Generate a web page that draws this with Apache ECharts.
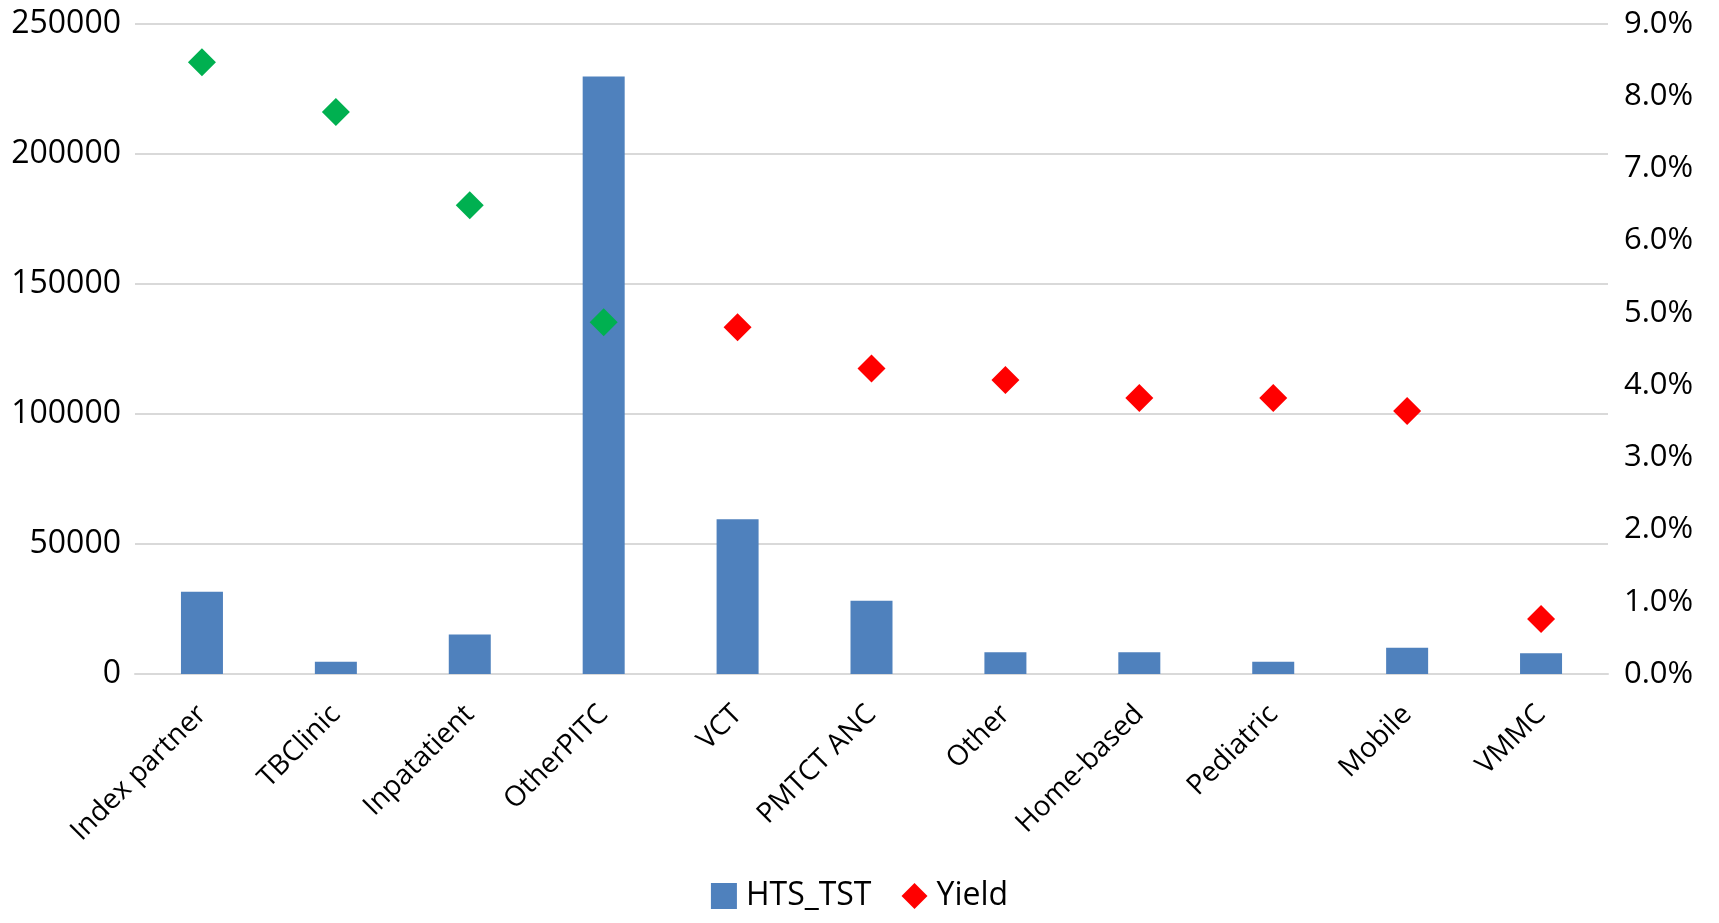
<!DOCTYPE html>
<html>
<head>
<meta charset="utf-8">
<script src="https://cdn.jsdelivr.net/npm/echarts@6/dist/echarts.min.js"></script>
<style>
  html, body { margin: 0; padding: 0; background: #fff; }
  #chart { width: 1719px; height: 923px; }
</style>
</head>
<body>
<div id="chart"></div>
<script>
// Testing volume and positivity yield by testing modality
const categories = ['Index partner', 'TBClinic', 'Inpatatient', 'OtherPITC', 'VCT', 'PMTCT ANC',
  'Other', 'Home-based', 'Pediatric', 'Mobile', 'VMMC'];
const htsTst = [31600, 4700, 15200, 229800, 59500, 28200, 8400, 8400, 4700, 10100, 8000];
const yieldRate = [0.0847, 0.0778, 0.0649, 0.0487, 0.0480, 0.0423, 0.0407, 0.0382, 0.0382, 0.0364, 0.0076];
const leftTicks = { min: 0, max: 250000, step: 50000 };
const rightTicks = { min: 0, max: 0.09, step: 0.01 };
// modalities whose yield is flagged as high (shown in green)
const highYieldCount = 4;

const FONT = '"Open Sans", "Liberation Sans", sans-serif';
const GREEN = '#00B050';
const RED = '#FF0000';
const BLUE = '#4F81BD';

const chart = echarts.init(document.getElementById('chart'), null, { renderer: 'canvas' });

const yieldData = yieldRate.map((v, i) => ({
  value: v,
  itemStyle: { color: i < highYieldCount ? GREEN : RED, opacity: 1 }
}));

chart.setOption({
  animation: false,
  textStyle: { fontFamily: FONT, color: '#000' },
  grid: { left: 135, right: 111, top: 24, bottom: 249, containLabel: false },
  legend: {
    bottom: 6,
    left: 'center',
    itemGap: 30,
    itemWidth: 26,
    itemHeight: 26,
    textStyle: { fontFamily: FONT, fontSize: 32, color: '#000', padding: [0, 0, 0, 4] },
    data: [
      { name: 'HTS_TST', icon: 'rect', itemStyle: { color: BLUE } },
      { name: 'Yield', icon: 'diamond', itemStyle: { color: RED, opacity: 1 } }
    ]
  },
  xAxis: {
    type: 'category',
    data: categories,
    axisLine: { lineStyle: { color: '#D9D9D9', width: 2 } },
    axisTick: { show: false },
    axisLabel: {
      rotate: 45,
      interval: 0,
      margin: 36,
      fontSize: 28,
      fontFamily: FONT,
      color: '#000'
    }
  },
  yAxis: [
    {
      type: 'value',
      min: leftTicks.min,
      max: leftTicks.max,
      interval: leftTicks.step,
      axisLine: { show: false },
      axisTick: { show: false },
      axisLabel: {
        margin: 14, fontSize: 32, fontFamily: FONT, color: '#000',
        formatter: v => String(v)
      },
      splitLine: { lineStyle: { color: '#D9D9D9', width: 2 } }
    },
    {
      type: 'value',
      min: rightTicks.min,
      max: rightTicks.max,
      interval: rightTicks.step,
      axisLine: { show: false },
      axisTick: { show: false },
      splitLine: { show: false },
      axisLabel: {
        margin: 16,
        fontSize: 31,
        fontFamily: FONT,
        color: '#000',
        formatter: v => (v * 100).toFixed(1) + '%'
      }
    }
  ],
  series: [
    {
      name: 'HTS_TST',
      type: 'bar',
      data: htsTst,
      barWidth: 42,
      itemStyle: { color: BLUE },
      yAxisIndex: 0
    },
    {
      name: 'Yield',
      type: 'scatter',
      data: yieldData,
      yAxisIndex: 1,
      symbol: 'diamond',
      symbolSize: 28,
      itemStyle: { color: RED, opacity: 1 },
      z: 3
    }
  ]
});
</script>
</body>
</html>
